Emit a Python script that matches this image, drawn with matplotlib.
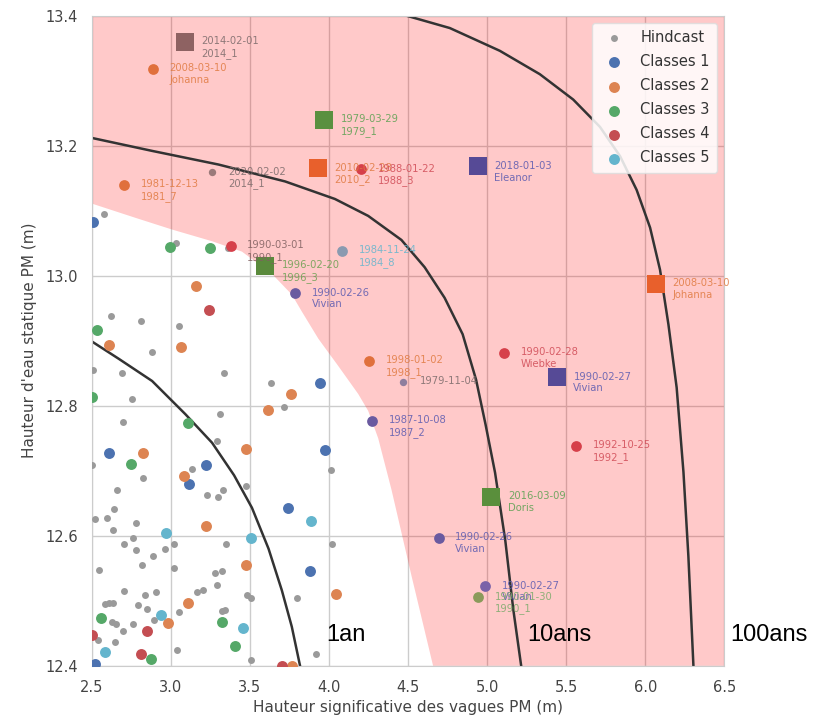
import matplotlib
matplotlib.use("Agg")
import matplotlib.pyplot as plt
from matplotlib.patches import Polygon

# hindcast (gray points)
hind_x = [2.58, 3.03, 3.362, 2.62, 2.809, 3.053, 2.879, 2.51, 2.689, 3.335, 3.636, 2.753,
          3.714, 3.31, 2.70, 3.289, 2.504, 3.131, 4.011, 2.826, 3.474, 2.658, 3.331, 3.226,
          3.299, 2.643, 2.521, 2.595, 2.636, 2.78, 2.706, 2.763, 2.78, 2.963, 3.021, 3.352,
          4.022, 2.889, 2.82, 3.021, 2.546, 3.278, 3.325, 3.289, 2.704, 2.837, 2.906, 3.163,
          3.205, 3.482, 3.504, 3.798, 2.584, 2.636, 2.79, 2.847, 3.053, 3.325, 2.626, 2.652,
          2.893, 2.763, 2.70, 2.542, 2.647, 3.037, 3.504, 3.916, 2.61, 3.34]
hind_y = [13.095, 13.05, 13.042, 12.938, 12.93, 12.922, 12.883, 12.855, 12.851, 12.851, 12.835, 12.811,
          12.798, 12.788, 12.775, 12.746, 12.709, 12.703, 12.701, 12.689, 12.676, 12.67, 12.67, 12.662,
          12.659, 12.641, 12.626, 12.628, 12.609, 12.619, 12.587, 12.596, 12.578, 12.579, 12.587, 12.587,
          12.588, 12.569, 12.555, 12.551, 12.548, 12.542, 12.545, 12.524, 12.515, 12.509, 12.513, 12.513,
          12.516, 12.509, 12.504, 12.504, 12.495, 12.496, 12.493, 12.487, 12.482, 12.484, 12.468, 12.464,
          12.47, 12.464, 12.453, 12.44, 12.436, 12.424, 12.409, 12.418, 12.497, 12.486]

# classes
c1_x = [2.51, 3.941, 2.609, 3.973, 3.22, 3.116, 3.741, 3.883, 2.521]
c1_y = [13.083, 12.835, 12.728, 12.732, 12.709, 12.68, 12.642, 12.545, 12.402]
c2_x = [3.158, 2.61, 3.064, 3.763, 3.615, 3.474, 2.826, 3.083, 3.22, 3.474, 4.047, 3.11, 2.98, 3.766]
c2_y = [12.984, 12.894, 12.891, 12.818, 12.794, 12.733, 12.727, 12.692, 12.615, 12.555, 12.511, 12.496, 12.465, 12.4]
c3_x = [2.994, 3.247, 2.535, 2.504, 3.106, 2.748, 2.557, 3.321, 3.405, 2.874]
c3_y = [13.044, 13.042, 12.917, 12.814, 12.773, 12.71, 12.474, 12.468, 12.431, 12.41]
c4_x = [3.243, 2.851, 2.5, 2.811, 3.70]
c4_y = [12.947, 12.453, 12.447, 12.418, 12.4]
c5_x = [2.967, 3.885, 3.51, 2.938, 3.457, 2.584]
c5_y = [12.604, 12.622, 12.596, 12.478, 12.458, 12.421]

# named events
ev_x = [3.089, 2.885, 3.967, 3.931, 4.205, 3.258, 2.704, 3.378, 3.598, 4.084, 3.788,
        4.941, 6.067, 4.253, 4.467, 4.274, 4.693, 5.109, 5.44, 5.562, 5.025, 4.989, 4.945]
ev_y = [13.36, 13.318, 13.24, 13.165, 13.164, 13.159, 13.14, 13.046, 13.015, 13.038, 12.973,
        13.168, 12.988, 12.869, 12.837, 12.777, 12.597, 12.881, 12.844, 12.738, 12.66, 12.522, 12.505]
ev_labels = ["2014-02-01\n2014_1", "2008-03-10\nJohanna", "1979-03-29\n1979_1", "2010-02-28\n2010_2",
             "1988-01-22\n1988_3", "2020-02-02\n2014_1", "1981-12-13\n1981_7", "1990-03-01\n1990_1",
             "1996-02-20\n1996_3", "1984-11-24\n1984_8", "1990-02-26\nVivian", "2018-01-03\nEleanor",
             "2008-03-10\nJohanna", "1998-01-02\n1998_1", "1979-11-04", "1987-10-08\n1987_2",
             "1990-02-26\nVivian", "1990-02-28\nWiebke", "1990-02-27\nVivian", "1992-10-25\n1992_1",
             "2016-03-09\nDoris", "1990-02-27\nVivian", "1990-01-30\n1990_1"]
ev_marker = ["s", "o", "s", "s", "o", "o", "o", "o", "s", "o", "o",
             "s", "s", "o", "o", "o", "o", "o", "s", "o", "s", "o", "o"]
ev_colors = ["#8e6262", "#e0703c", "#5a9040", "#e8602c", "#d6404a", "#9a7a7a", "#e0703c", "#d6404a",
             "#5a8a3c", "#8a9ab0", "#6a5aa0", "#564a96", "#e8602c", "#e0703c", "#8e7e9e", "#6a5aa0",
             "#6a5aa0", "#d6404a", "#564a96", "#d6404a", "#5a8f3c", "#7a62a8", "#8a9a5a"]
ev_text_colors = ["#7a6a6a", "#e07a40", "#5aa050", "#e07a40", "#d04a55", "#7a6a6a", "#e07a40", "#806060",
                  "#6aa050", "#64b5cd", "#5a5ab0", "#5a5ab0", "#e07a40", "#e07a40", "#7a6a6a", "#5a5ab0",
                  "#5a5ab0", "#d04a55", "#5a5ab0", "#d04a55", "#5aa050", "#5a5ab0", "#7aaa6a"]

# pink zone boundary (lower-left edge)
zone_x = [2.5, 2.777, 3.008, 3.261, 3.45, 3.639, 3.765, 3.828, 3.933, 4.059, 4.185, 4.248,
          4.311, 4.395, 4.521, 4.658]
zone_y = [13.111, 13.089, 13.071, 13.053, 13.037, 13.003, 12.971, 12.945, 12.903, 12.861, 12.818, 12.792,
          12.75, 12.671, 12.539, 12.4]

# return period curves
an1_x = [2.5, 2.672, 2.882, 3.092, 3.261, 3.4, 3.513, 3.618, 3.702, 3.765, 3.817]
an1_y = [12.899, 12.872, 12.838, 12.787, 12.743, 12.693, 12.643, 12.58, 12.516, 12.46, 12.4]
an10_x = [2.5, 2.882, 3.302, 3.723, 4.038, 4.248, 4.458, 4.605, 4.731, 4.845, 4.93, 4.99,
          5.05, 5.115, 5.165, 5.215]
an10_y = [13.212, 13.192, 13.171, 13.145, 13.118, 13.092, 13.055, 13.013, 12.966, 12.91, 12.84, 12.771,
          12.697, 12.592, 12.487, 12.4]
an100_x = [4.49, 4.764, 5.08, 5.333, 5.544, 5.713, 5.84, 5.945, 6.03, 6.093, 6.146, 6.198,
           6.241, 6.272, 6.304]
an100_y = [13.4, 13.381, 13.346, 13.31, 13.271, 13.229, 13.184, 13.132, 13.074, 13.009, 12.925, 12.828,
           12.698, 12.569, 12.4]

x_min, x_max = 2.5, 6.5
y_min, y_max = 12.4, 13.4

fig = plt.figure(figsize=(8.18, 7.2), dpi=100)
ax = fig.add_axes([0.1121, 0.0754, 0.7735, 0.9028])

ax.set_xlim(x_min, x_max)
ax.set_ylim(y_min, y_max)
ax.set_axisbelow(True)
ax.grid(True, color="#cccccc", linewidth=1.0)
for s in ax.spines.values():
    s.set_color("#cccccc")
ax.tick_params(length=0, pad=10, labelsize=10.5, labelcolor="#444444")
ax.set_xticks([2.5, 3.0, 3.5, 4.0, 4.5, 5.0, 5.5, 6.0, 6.5])
ax.set_yticks([12.4, 12.6, 12.8, 13.0, 13.2, 13.4])

# pink zone
poly = list(zip(zone_x, zone_y)) + [(x_max, y_min), (x_max, y_max), (x_min, y_max)]
ax.add_patch(Polygon(poly, closed=True, facecolor="red", alpha=0.21, edgecolor="none", zorder=1))

for cx, cy in [(an1_x, an1_y), (an10_x, an10_y), (an100_x, an100_y)]:
    ax.plot(cx, cy, color="#333333", linewidth=1.8, zorder=2, solid_joinstyle="round")

ax.scatter(hind_x, hind_y, s=25, color="#9a9a9a", linewidths=0, zorder=3, label="Hindcast")
pal = ["#4c72b0", "#dd8452", "#55a868", "#c44e52", "#64b5cd"]
for i, (cx, cy) in enumerate([(c1_x, c1_y), (c2_x, c2_y), (c3_x, c3_y), (c4_x, c4_y), (c5_x, c5_y)]):
    ax.scatter(cx, cy, s=62, color=pal[i], linewidths=0, zorder=3, label="Classes %d" % (i + 1))

for x, y, lab, m, c, tc in zip(ev_x, ev_y, ev_labels, ev_marker, ev_colors, ev_text_colors):
    if m == "s":
        size = 160
    elif c in ("#9a7a7a", "#8e7e9e"):
        size = 28
    else:
        size = 60
    ax.scatter([x], [y], s=size, marker=m, color=c, linewidths=0, zorder=4)
    ax.annotate(lab, (x, y), xytext=(12, 4), textcoords="offset points", fontsize=7.2,
                color=tc, alpha=0.85, va="top", ha="left", zorder=5)

ax.set_xlabel("Hauteur significative des vagues PM (m)", fontsize=11, color="#444444", labelpad=4)
ax.set_ylabel("Hauteur d'eau statique PM (m)", fontsize=11, color="#444444", labelpad=6)

leg = ax.legend(loc="upper right", fontsize=10.5, frameon=True, framealpha=0.85,
                edgecolor="#dddddd", facecolor="white", handletextpad=0.8, borderpad=0.5,
                labelspacing=0.62)
for t in leg.get_texts():
    t.set_color("#333333")

for x, lab in [(3.984, "1an"), (5.256, "10ans"), (6.536, "100ans")]:
    ax.text(x, 12.438, lab, fontsize=17, family="Liberation Sans", color="black",
            va="baseline", ha="left", clip_on=False, zorder=6)

fig.savefig("out.png", dpi=100)
